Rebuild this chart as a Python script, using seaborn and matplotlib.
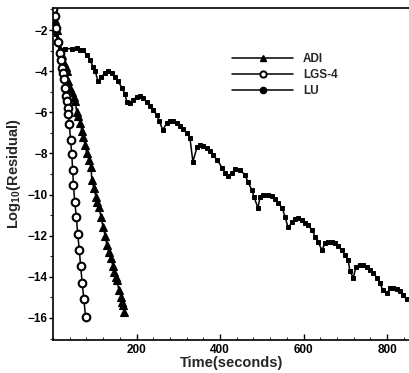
import matplotlib
matplotlib.use("Agg")
import matplotlib.pyplot as plt
from matplotlib.ticker import MultipleLocator
from matplotlib.lines import Line2D
import seaborn as sns
import pandas as pd

# ---- data ----
t_lgs = [0, 4, 8, 12, 16, 19, 22, 25, 27, 29, 31, 33, 35, 37, 39, 42, 45, 47, 49, 52, 56, 59, 63, 66, 70, 74, 78]
y_lgs = [-1.0, -1.3, -1.9, -2.6, -3.1, -3.45, -3.85, -4.1, -4.4, -4.8, -5.2, -5.45, -5.8, -6.1, -6.55,
         -7.35, -8.05, -8.8, -9.55, -10.35, -11.1, -11.9, -12.7, -13.45, -14.3, -15.1, -15.95]

t_adi = [0, 5, 10, 12, 17, 22, 26, 30, 34, 37, 41, 46, 50, 53, 57, 61, 65, 69, 72, 77, 81, 86, 91, 93,
         98, 103, 106, 110, 115, 120, 125, 129, 134, 139, 143, 146, 150, 153, 158, 163, 166, 168, 170]
y_adi = [-1.0, -1.5, -2.0, -2.5, -2.9, -3.2, -3.6, -3.8, -4.0, -4.5, -4.8, -5.0, -5.25, -5.45, -6.0, -6.2,
         -6.5, -6.9, -7.2, -7.6, -8.0, -8.3, -8.65, -9.3, -9.7, -10.1, -10.35, -10.6, -11.1, -11.6, -12.0,
         -12.45, -12.8, -13.1, -13.45, -13.75, -14.0, -14.15, -14.65, -15.0, -15.2, -15.35, -15.7]

t_lu = [0, 4, 8, 12, 17, 29, 45, 57, 65, 72, 81, 89, 96, 101, 108, 115, 124, 132, 141, 148, 156, 165, 172,
        177, 184, 192, 201, 208, 216, 225, 232, 240, 249, 254, 263, 273, 280, 287, 297, 304, 311, 321, 328,
        335, 345, 352, 359, 369, 376, 383, 393, 405, 412, 419, 429, 436, 448, 460, 467, 477, 481, 491, 496,
        503, 515, 525, 532, 539, 549, 556, 563, 573, 580, 587, 596, 604, 611, 620, 628, 635, 644, 652, 659,
        668, 675, 683, 692, 699, 707, 711, 719, 726, 735, 743, 752, 759, 767, 776, 783, 790, 800, 807, 814,
        824, 831, 838, 848]
y_lu = [-1.0, -1.6, -2.2, -2.7, -2.97, -2.9, -2.92, -2.88, -2.97, -2.97, -3.2, -3.46, -3.8, -4.0, -4.5,
        -4.3, -4.1, -4.0, -4.1, -4.3, -4.5, -4.8, -5.1, -5.5, -5.55, -5.4, -5.25, -5.2, -5.3, -5.5, -5.7,
        -5.9, -6.13, -6.4, -6.86, -6.5, -6.4, -6.4, -6.5, -6.67, -6.8, -7.0, -7.25, -8.4, -7.7, -7.6, -7.65,
        -7.75, -7.9, -8.08, -8.3, -8.7, -8.95, -9.1, -8.95, -8.75, -8.8, -9.05, -9.4, -9.8, -10.1, -10.65,
        -10.1, -10.0, -10.0, -10.07, -10.2, -10.4, -10.65, -11.1, -11.6, -11.35, -11.2, -11.15, -11.25,
        -11.4, -11.5, -11.7, -12.05, -12.3, -12.7, -12.35, -12.3, -12.3, -12.35, -12.5, -12.7, -12.95,
        -13.2, -13.7, -14.05, -13.5, -13.4, -13.4, -13.5, -13.65, -13.8, -14.05, -14.3, -14.65, -14.8,
        -14.55, -14.55, -14.6, -14.7, -14.9, -15.1]

labels = ["ADI", "LGS-4", "LU"]
x_ticks = [200, 400, 600, 800]
y_ticks = [-2, -4, -6, -8, -10, -12, -14, -16]

# ---- style ----
sns.set_theme(style="ticks")
plt.rcParams["font.family"] = ["Liberation Sans", "DejaVu Sans"]
plt.rcParams["font.weight"] = "bold"
plt.rcParams["mathtext.fontset"] = "custom"
plt.rcParams["mathtext.rm"] = "Liberation Sans:bold"
plt.rcParams["mathtext.bf"] = "Liberation Sans:bold"
plt.rcParams["mathtext.it"] = "Liberation Sans:bold"

W, H = 409, 373
fig = plt.figure(figsize=(W / 100, H / 100), dpi=100)
ax = fig.add_axes([53 / W, 1 - 340 / H, (410 - 53) / W, (340 - 8) / H])

df_adi = pd.DataFrame({"t": t_adi, "r": y_adi})
df_lgs = pd.DataFrame({"t": t_lgs, "r": y_lgs})
df_lu = pd.DataFrame({"t": t_lu, "r": y_lu})

common = dict(color="black", linewidth=1.1, sort=False, estimator=None, ax=ax, legend=False)
sns.lineplot(data=df_lu, x="t", y="r", marker="s", markersize=3.3, markerfacecolor="black",
             markeredgecolor="black", markeredgewidth=0.7, **common)
sns.lineplot(data=df_adi, x="t", y="r", marker="^", markersize=5.4, markerfacecolor="black",
             markeredgecolor="black", markeredgewidth=0.8, **common)
sns.lineplot(data=df_lgs, x="t", y="r", marker="o", markersize=5.5, markerfacecolor="white",
             markeredgecolor="black", markeredgewidth=1.5, **common)

ax.set_xlim(0, 855)
ax.set_ylim(-17.07, -0.93)
ax.set_xticks(x_ticks)
ax.set_yticks(y_ticks)
ax.xaxis.set_minor_locator(MultipleLocator(40))
ax.yaxis.set_minor_locator(MultipleLocator(1))
ax.tick_params(axis="x", which="major", direction="in", length=4, width=1, pad=3, labelsize=8.5, colors="black")
ax.tick_params(axis="x", which="minor", direction="in", length=2, width=0.8)
ax.tick_params(axis="y", which="major", direction="out", length=3, width=1, pad=1, labelsize=8.5, colors="black")
ax.tick_params(axis="y", which="minor", direction="out", length=2, width=0.8)
for lab in ax.get_xticklabels() + ax.get_yticklabels():
    lab.set_fontweight("bold")

for s in ["left", "bottom", "top"]:
    ax.spines[s].set_linewidth(1.2)
    ax.spines[s].set_color("black")
ax.spines["right"].set_visible(False)

ax.set_xlabel("Time(seconds)", fontsize=10.5, fontweight="bold", labelpad=0)
ax.set_ylabel(r"Log$_{\mathbf{10}}$(Residual)", fontsize=10.5, fontweight="bold", labelpad=3)

handles = [
    Line2D([], [], color="black", lw=1.1, marker="^", ms=4, mfc="black", mec="black"),
    Line2D([], [], color="black", lw=1.1, marker="o", ms=4.5, mfc="white", mec="black", mew=1.4),
    Line2D([], [], color="black", lw=1.1, marker="o", ms=4.5, mfc="black", mec="black"),
]
ax.legend(handles, labels, loc="upper left", bbox_to_anchor=(232 / W, 1 - 53 / H),
          bbox_transform=fig.transFigure, frameon=False, handlelength=5.2, handletextpad=0.8,
          labelspacing=0.35, borderpad=0, borderaxespad=0,
          prop={"weight": "bold", "size": 8.5, "family": "Liberation Sans"})

fig.savefig("out.png", dpi=100)
